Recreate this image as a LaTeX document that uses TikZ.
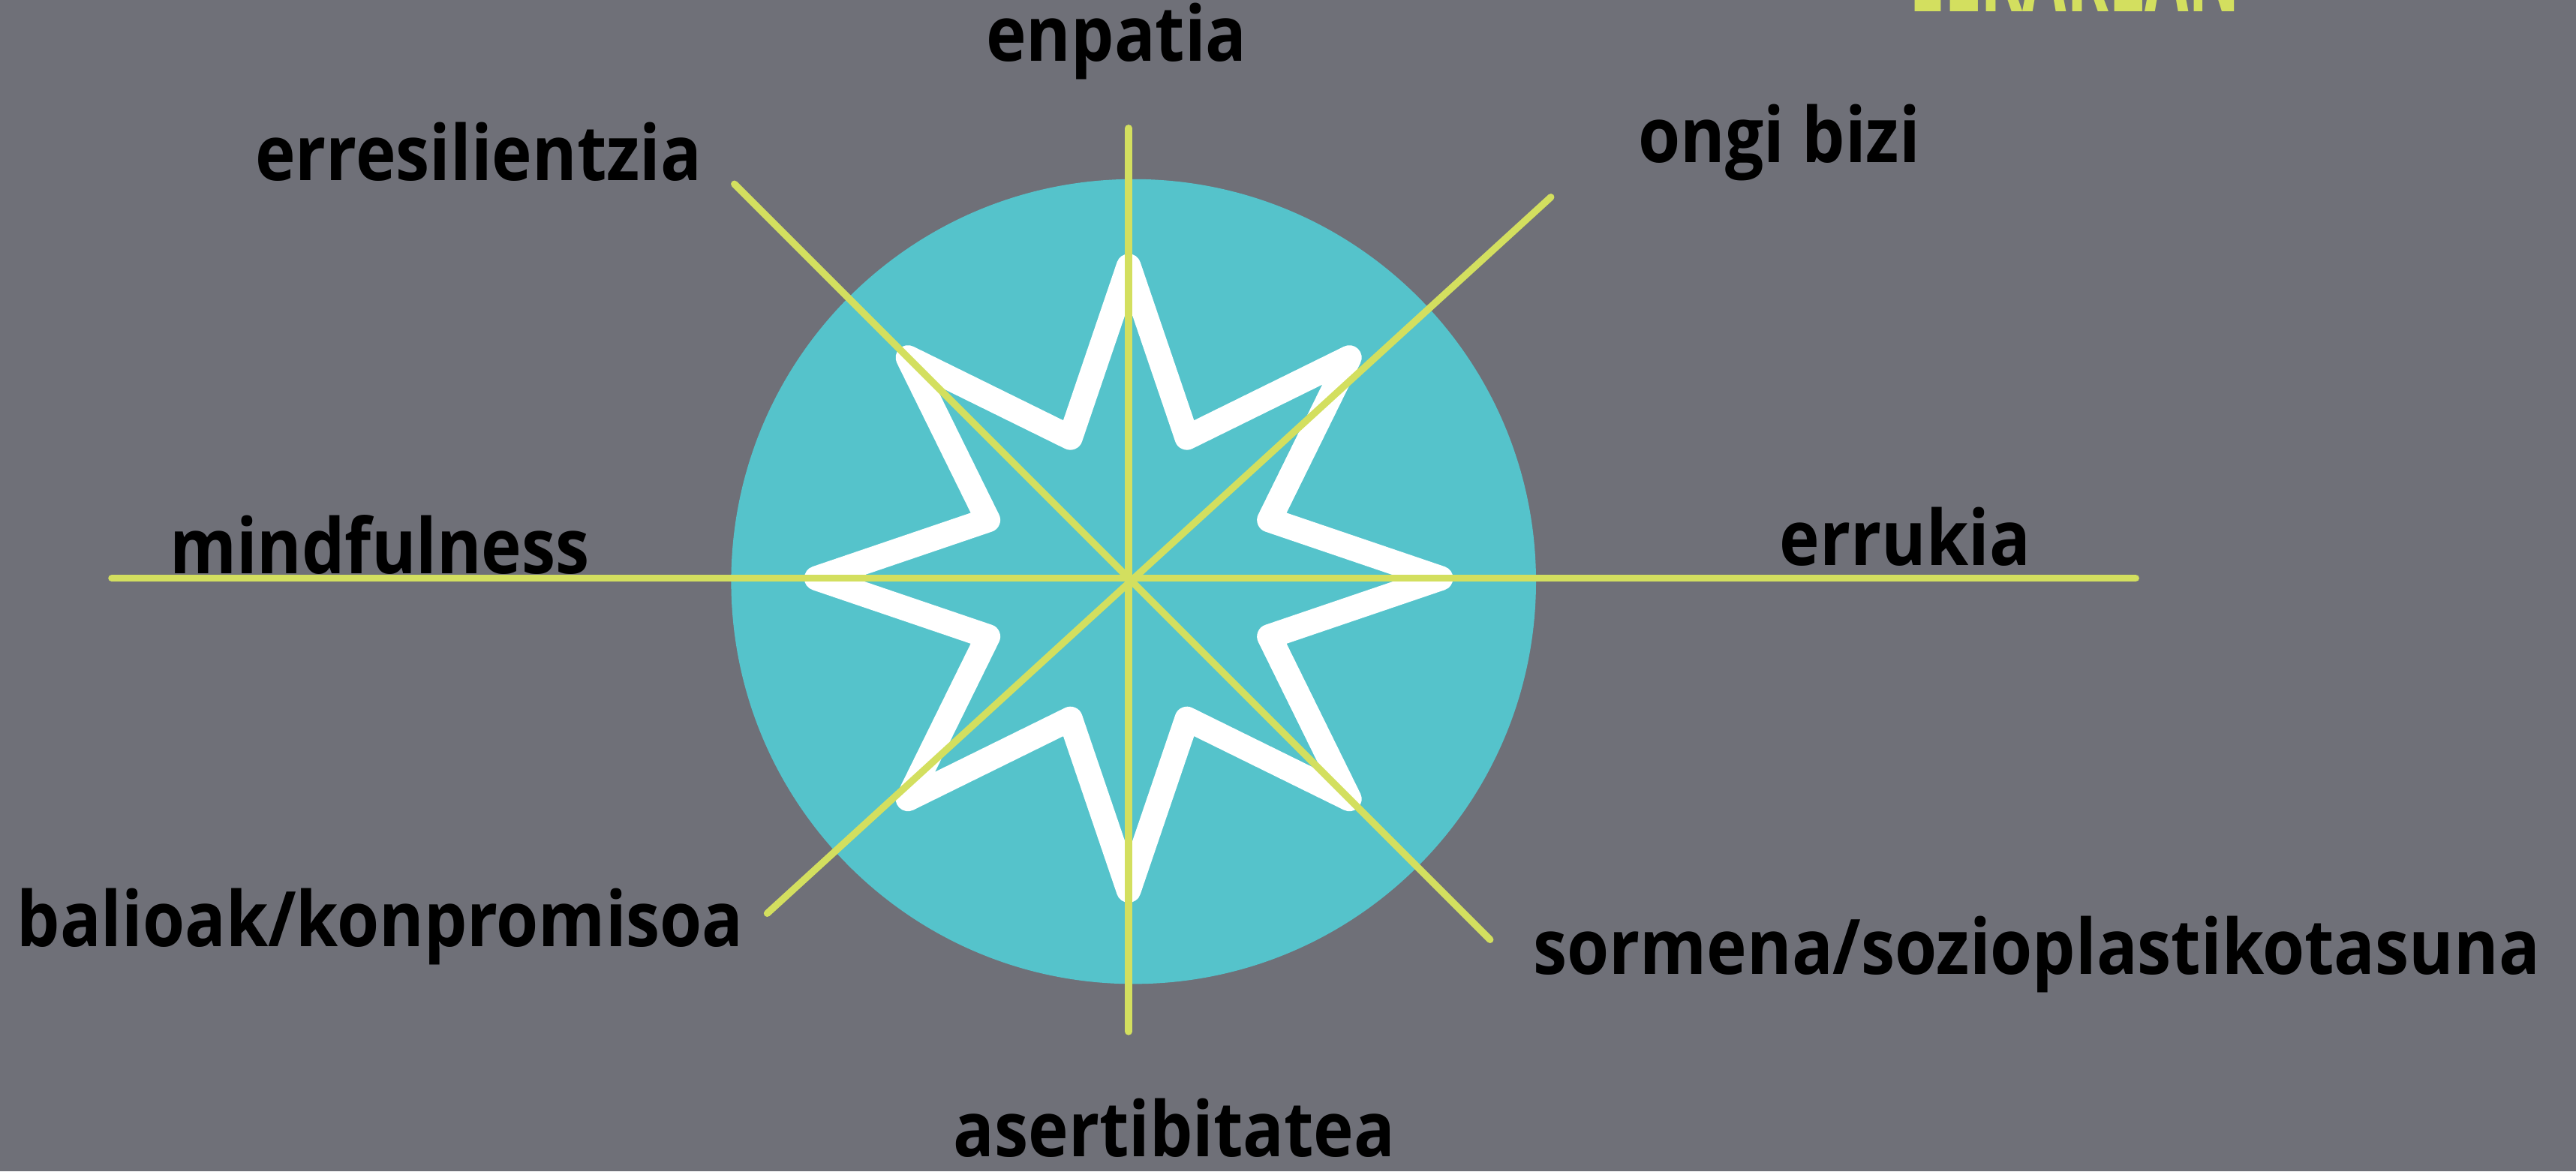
\documentclass[tikz,border=0pt]{standalone}
\usepackage{fontspec}
\setmainfont{Open Sans}
\usepackage{xcolor}
\usetikzlibrary{shapes.geometric}

\definecolor{bggray}{HTML}{6F7078}
\definecolor{discblue}{HTML}{55C3CB}
\definecolor{limeline}{HTML}{D3DF5F}

\begin{document}
\begin{tikzpicture}[
        x=0.02cm, y=-0.02cm,
        axis/.style={draw=limeline, line width=0.085cm, line cap=round},
        word/.style={anchor=base west, inner sep=0pt, text=black, xscale=0.89, font=\fontsize{26.5}{30}\selectfont\bfseries},
        heading/.style={anchor=base west, inner sep=0pt, text=limeline, xscale=0.55, font=\fontsize{40}{44}\selectfont\bfseries}
    ]
        \fill[bggray] (0,0) rectangle (1568,713);
        \useasboundingbox (0,0) rectangle (1568,713);

        \coordinate (c) at (687,352);
        \node[circle, fill=discblue, inner sep=0pt, minimum size=9.8cm] (disc) at (690,354) {};
        \node[star, star points=8, star point ratio=2.05, inner sep=0pt, minimum size=7.6cm,
              draw=white, line width=0.3cm, line join=round] (rose) at (c) {};

        % axis ends
        \coordinate (n) at (687,78);
        \coordinate (s) at (687,628);
        \coordinate (w) at (68,352);
        \coordinate (e) at (1300,352);
        \coordinate (nw) at (447,112);
        \coordinate (se) at (907,572);
        \coordinate (ne) at (944,120);
        \coordinate (sw) at (467,556);
        \draw[axis] (n) -- (s);
        \draw[axis] (w) -- (e);
        \draw[axis] (nw) -- (se);
        \draw[axis] (ne) -- (sw);

        % labels
        \node[word] (enpatia) at (600,37) {enpatia};
        \node[word] (erresil) at (155,110) {erresilientzia};
        \node[word] (ongi) at (997,99) {ongi bizi};
        \node[word] (mindful) at (103,349) {mindfulness};
        \node[word] (errukia) at (1083,344) {errukia};
        \node[word] (balioak) at (10,576) {balioak/konpromisoa};
        \node[word] (sormena) at (933,593) {sormena/sozioplastikotasuna};
        \node[word] (asertib) at (580,704) {asertibitatea};
        \node[heading] (elkarlan) at (1162,7) {ELKARLAN};
    \end{tikzpicture}
\end{document}
